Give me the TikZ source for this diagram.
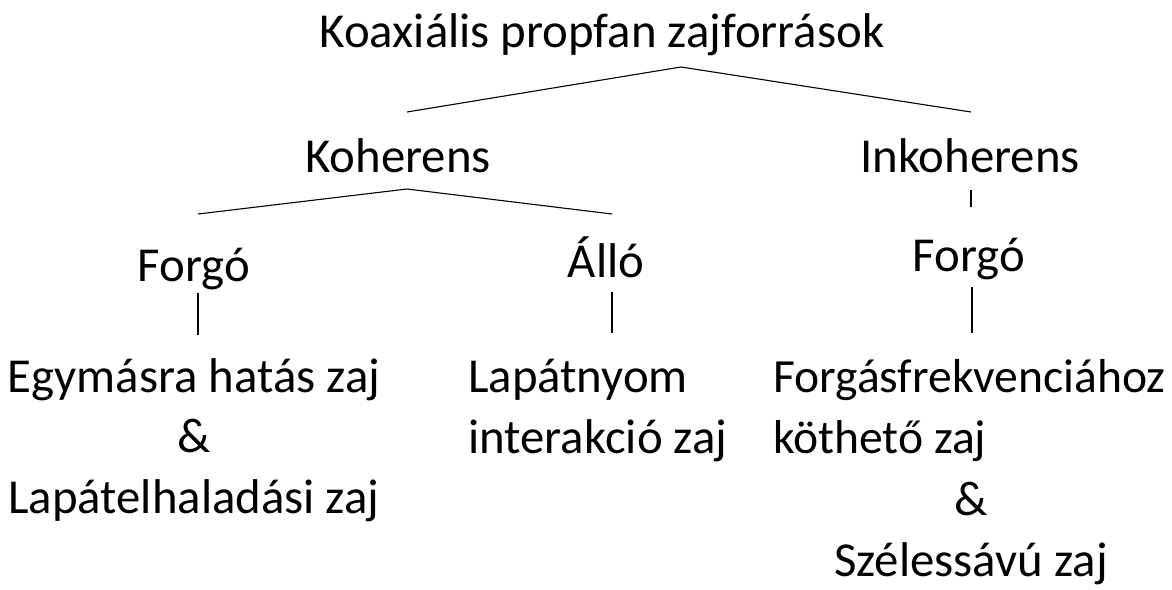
\documentclass[tikz,border=0pt]{standalone}
\usepackage{fontspec}
\setmainfont{Carlito}
\usetikzlibrary{positioning}

\begin{document}
\begin{tikzpicture}[x=1pt,y=-1pt,
    lbl/.style={inner sep=0pt, font=\fontsize{48.8}{60.5}\selectfont},
    ag/.style={line width=1.1pt}]
  % zajforrasok fa
  \useasboundingbox (0,0) rectangle (1172,589);

  \node[lbl, anchor=base] (top) at (602,47) {Koaxiális propfan zajforrások};
  \node[lbl, anchor=base] (koh) at (398,172) {Koherens};
  \node[lbl, anchor=base] (inkoh) at (970,172) {Inkoherens};
  \node[lbl, anchor=base] (forgoA) at (194,281) {Forgó};
  \node[lbl, anchor=base] (allo) at (606,277) {Álló};
  \node[lbl, anchor=base] (forgoB) at (969,271) {Forgó};

  \node[lbl, anchor=base, align=center] (egym) at (194,513)
    {Egymásra hatás zaj\\\&\\Lapátelhaladási zaj};
  \node[lbl, anchor=base west, align=left] (lapny) at (468,453)
    {Lapátnyom\\interakció zaj};
  \node[lbl, anchor=base west, align=left, font=\fontsize{47.6}{60.5}\selectfont]
    (forgfr) at (773,453) {Forgásfrekvenciához\\köthető zaj};
  \node[lbl, anchor=base, align=center] (szeles) at (971,576)
    {\&\\Szélessávú zaj};

  % elagazasok
  \coordinate (t1) at (681,67);
  \coordinate (k1) at (407,112);
  \coordinate (i1) at (971,112);
  \coordinate (t2) at (407,189);
  \coordinate (fa1) at (198,214);
  \coordinate (al1) at (612,214);
  \coordinate (i2) at (971,190);
  \coordinate (fb1) at (971,207);
  \coordinate (fa2) at (198,293);
  \coordinate (e1) at (198,335);
  \coordinate (al2) at (612,292);
  \coordinate (l1) at (612,333);
  \coordinate (fb2) at (972,287);
  \coordinate (f1) at (972,333);

  \draw[ag] (k1) -- (t1) -- (i1);
  \draw[ag] (fa1) -- (t2) -- (al1);
  \draw[ag] (i2) -- (fb1);
  \draw[ag] (fa2) -- (e1);
  \draw[ag] (al2) -- (l1);
  \draw[ag] (fb2) -- (f1);
\end{tikzpicture}
\end{document}
